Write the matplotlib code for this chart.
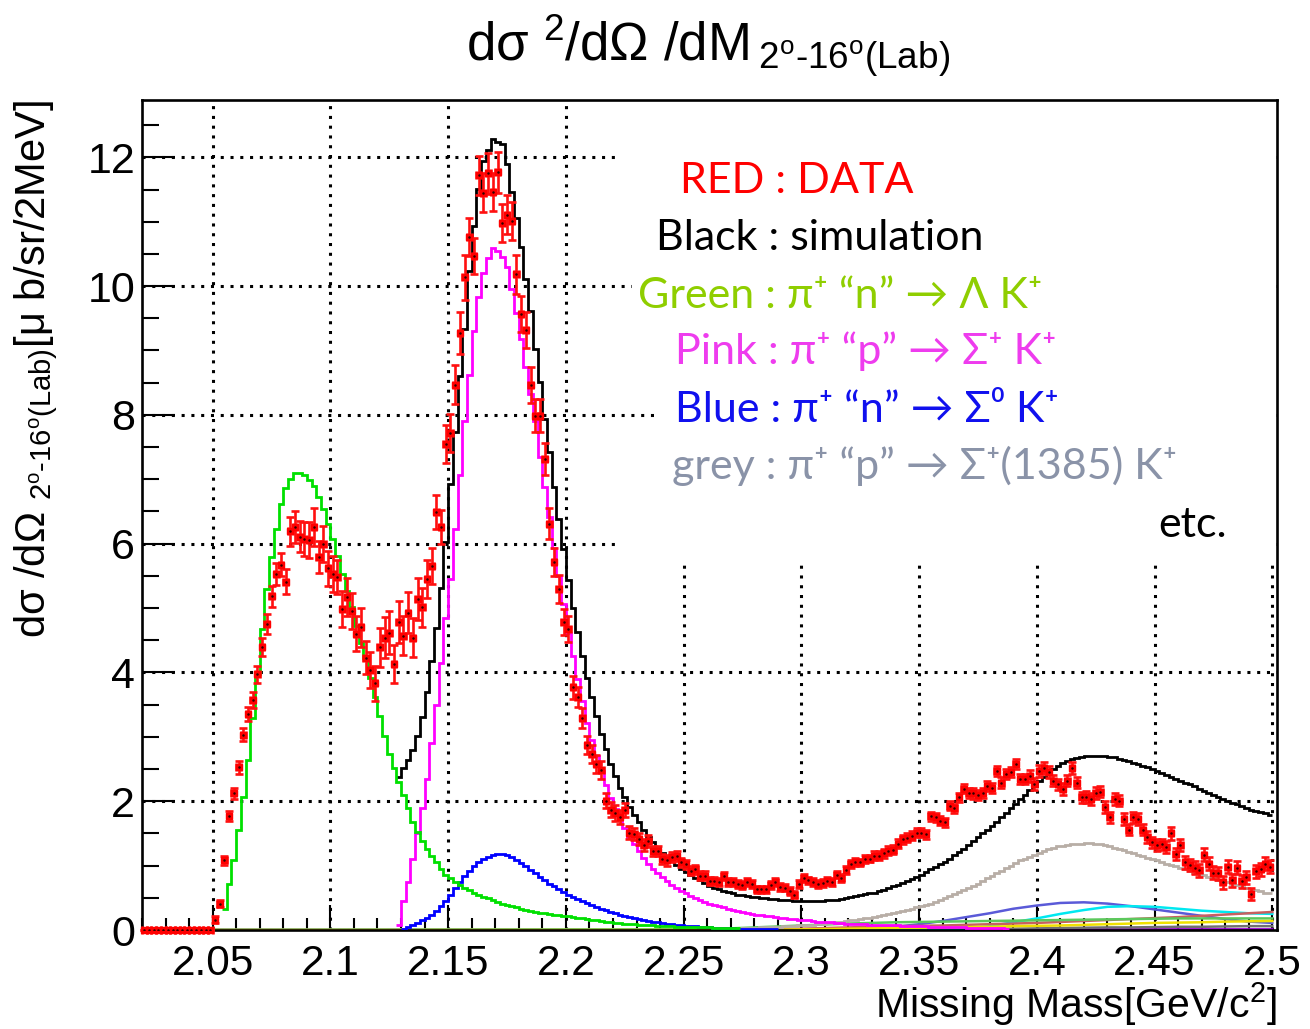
import numpy as np
import matplotlib
matplotlib.use("Agg")
import matplotlib.pyplot as plt
from matplotlib.patches import Rectangle

plt.rcParams["font.family"] = ["Liberation Sans", "DejaVu Sans"]
plt.rcParams["mathtext.fontset"] = "custom"
plt.rcParams["mathtext.rm"] = "Liberation Sans"
plt.rcParams["mathtext.it"] = "Liberation Sans"
plt.rcParams["mathtext.default"] = "regular"

# ---- binning: 2 MeV bins from 2.020 to 2.500 GeV ----
edges = np.round(2.020 + 0.002 * np.arange(241), 3)
centers = edges[:-1] + 0.001

# ---- data (red points), one value per bin ----
data_low = [0.0] * 15
data_hump = [0.16, 0.41, 1.08, 1.77, 2.12, 2.53, 3.03, 3.35, 3.57, 3.97,
             4.40, 4.75, 5.18, 5.53, 5.67, 5.41, 6.19, 6.26, 6.11, 6.07,
             6.05, 6.26, 5.79, 5.99, 5.62, 5.53, 5.48, 4.99, 5.17, 4.96,
             4.60, 4.70, 4.23, 4.04, 3.83]
data_dip = [4.39, 4.54, 4.62, 4.13, 4.78, 4.57, 4.93, 4.54, 5.14, 5.01,
            5.45, 5.66, 6.49, 6.26]
data_peak = [7.55, 7.72, 8.47, 9.27, 10.14, 10.76, 10.46, 11.72, 11.45, 11.75,
             11.46, 11.77, 10.98, 11.11, 11.01, 10.18, 9.57, 9.32, 8.46, 7.99,
             7.99, 7.32, 6.31, 5.71, 5.30]
data_tail = [4.78, 4.67, 3.77, 3.62, 3.29, 2.87, 2.74, 2.58, 2.48, 2.01,
             1.87, 1.82, 1.75, 1.87, 1.51, 1.49, 1.41, 1.32, 1.38, 1.23,
             1.23, 1.10, 1.08, 1.13, 1.15, 1.05, 1.02, 0.92, 0.94, 0.84,
             0.84, 0.76, 0.76, 0.74, 0.84, 0.75, 0.75, 0.71, 0.70, 0.75,
             0.71, 0.63, 0.63, 0.63, 0.70, 0.74]
data_rise = [0.67, 0.66, 0.61, 0.55, 0.71, 0.81, 0.77, 0.75, 0.71, 0.73,
             0.76, 0.75, 0.86, 0.81, 0.93, 1.03, 1.06, 1.05, 1.10, 1.11,
             1.15, 1.15, 1.19, 1.23, 1.25, 1.34, 1.41, 1.43, 1.46, 1.51,
             1.51, 1.49, 1.77, 1.75, 1.70, 1.67, 1.93, 1.89, 2.06, 2.19,
             2.13, 2.12, 2.10, 2.13, 2.24, 2.21, 2.47, 2.29, 2.42, 2.45,
             2.58, 2.34, 2.34]
data_high = [2.39, 2.27, 2.47, 2.52, 2.45, 2.32, 2.26, 2.19, 2.32, 2.52,
             2.29, 2.06, 2.07, 2.03, 2.13, 2.15, 1.91, 1.75, 2.03, 2.01,
             1.72, 1.56, 1.75, 1.72, 1.56, 1.44, 1.36, 1.32, 1.33, 1.29,
             1.50, 1.18, 1.32, 1.05, 1.01, 0.97, 0.93, 1.17, 1.03, 0.89,
             0.88, 0.74, 0.98, 0.77, 0.97, 0.76, 0.82, 0.56, 0.91, 0.94,
             1.03, 0.98]

err_low = [0.0] * 15
err_hump = [0.05, 0.06, 0.07, 0.08, 0.09, 0.10, 0.10, 0.11, 0.12, 0.13,
            0.14, 0.15, 0.16, 0.17, 0.18, 0.19, 0.22, 0.25, 0.24, 0.26,
            0.28, 0.30, 0.25, 0.28, 0.27, 0.28, 0.26, 0.28, 0.30, 0.28,
            0.27, 0.30, 0.26, 0.28, 0.27]
err_dip = [0.30, 0.32, 0.33, 0.30, 0.33, 0.30, 0.32, 0.30, 0.32, 0.30,
           0.30, 0.28, 0.26, 0.27]
err_peak = [0.30, 0.30, 0.30, 0.32, 0.35, 0.30, 0.28, 0.30, 0.30, 0.32,
            0.30, 0.32, 0.30, 0.30, 0.30, 0.30, 0.28, 0.28, 0.28, 0.26,
            0.26, 0.25, 0.24, 0.22, 0.22]
err_tail = [0.20, 0.20, 0.18, 0.16, 0.16, 0.14, 0.14, 0.14, 0.14, 0.12,
            0.12, 0.12, 0.11, 0.11, 0.10, 0.10, 0.09, 0.09, 0.09, 0.08,
            0.08, 0.08, 0.08, 0.08, 0.08, 0.07, 0.07, 0.07, 0.07, 0.07,
            0.07, 0.06, 0.06, 0.06, 0.06, 0.06, 0.06, 0.06, 0.06, 0.06,
            0.06, 0.06, 0.06, 0.06, 0.06, 0.06]
err_rise = [0.06] * 20 + [0.07] * 20 + [0.08] * 13
err_high = [0.09] * 30 + [0.10] * 22

data_y = data_low + data_hump + data_dip + data_peak + data_tail + data_rise + data_high
data_err = err_low + err_hump + err_dip + err_peak + err_tail + err_rise + err_high

# ---- simulation histograms (first value = bin starting at *_start) ----
green_start = 2.054
green = [0.32, 0.71, 1.08, 1.55, 2.07, 2.64, 3.30, 3.97, 4.67, 5.29,
         5.80, 6.23, 6.62, 6.87, 7.01, 7.09, 7.09, 7.07, 6.99, 6.89,
         6.73, 6.54, 6.30, 6.07, 5.81, 5.53, 5.27, 5.01, 4.72, 4.45,
         4.22, 3.92, 3.62, 3.33, 3.02, 2.74, 2.52, 2.30, 2.10, 1.90,
         1.68, 1.52, 1.38, 1.26, 1.15, 1.05, 0.95, 0.86, 0.80, 0.75,
         0.70, 0.66, 0.62, 0.58, 0.55, 0.52, 0.49, 0.46, 0.43, 0.41,
         0.39, 0.37, 0.35, 0.33, 0.31, 0.30, 0.28, 0.27, 0.26, 0.25,
         0.24, 0.23, 0.22, 0.21, 0.20, 0.19, 0.18, 0.17, 0.16, 0.15,
         0.14, 0.13, 0.12, 0.11, 0.105, 0.10, 0.095, 0.09, 0.085, 0.08,
         0.075, 0.07, 0.066, 0.062, 0.058, 0.055, 0.052, 0.05, 0.048, 0.046,
         0.044, 0.042, 0.04, 0.039, 0.038, 0.037, 0.036, 0.035, 0.034, 0.033]

black_start = 2.128
black = [2.38, 2.52, 2.64, 2.79, 3.02, 3.31, 3.70, 4.17, 4.69, 5.31,
         6.03, 6.93, 7.73, 8.60, 9.34, 10.24, 10.94, 11.51, 11.94, 12.11,
         12.28, 12.24, 12.21, 11.90, 11.46, 11.05, 10.61, 10.11, 9.62, 9.03,
         8.51, 7.94, 7.42, 6.88, 6.38, 5.92, 5.44, 5.00, 4.63, 4.26,
         3.92, 3.62, 3.33, 3.05, 2.81, 2.58, 2.39, 2.21, 2.06, 1.91,
         1.79, 1.67, 1.55, 1.45, 1.36, 1.27, 1.20, 1.13, 1.07, 1.01,
         0.95, 0.90, 0.85, 0.81, 0.77, 0.73, 0.69, 0.66, 0.63, 0.61,
         0.59, 0.57, 0.55, 0.54, 0.53, 0.52, 0.51, 0.50, 0.49, 0.48,
         0.48, 0.47, 0.46, 0.46, 0.45, 0.45, 0.45, 0.45, 0.45, 0.45,
         0.45, 0.46, 0.46, 0.47, 0.48, 0.50, 0.51, 0.53, 0.55, 0.56,
         0.57, 0.58, 0.60, 0.62, 0.65, 0.68, 0.70, 0.73, 0.76, 0.79,
         0.82, 0.86, 0.90, 0.94, 0.98, 1.02, 1.06, 1.11, 1.16, 1.21,
         1.26, 1.32, 1.38, 1.44, 1.50, 1.56, 1.62, 1.68, 1.75, 1.82,
         1.89, 1.96, 2.03, 2.10, 2.17, 2.24, 2.32, 2.38, 2.44, 2.50,
         2.55, 2.59, 2.62, 2.65, 2.67, 2.69, 2.70, 2.71, 2.71, 2.71,
         2.70, 2.69, 2.68, 2.66, 2.64, 2.62, 2.60, 2.58, 2.55, 2.53,
         2.50, 2.47, 2.44, 2.41, 2.38, 2.35, 2.32, 2.29, 2.26, 2.23,
         2.19, 2.16, 2.13, 2.10, 2.07, 2.04, 2.01, 1.98, 1.95, 1.92,
         1.89, 1.87, 1.85, 1.83, 1.81, 1.79]

pink_start = 2.128
pink = [0.08, 0.45, 0.75, 1.10, 1.50, 1.90, 2.35, 2.90, 3.50, 4.15,
        4.85, 5.45, 6.23, 7.06, 7.91, 8.62, 9.30, 9.83, 10.20, 10.44,
        10.59, 10.54, 10.45, 10.30, 9.96, 9.58, 9.18, 8.75, 8.33, 7.91,
        7.34, 6.88, 6.41, 5.94, 5.50, 5.07, 4.62, 4.25, 3.90, 3.55,
        3.22, 2.95, 2.70, 2.47, 2.25, 2.05, 1.88, 1.72, 1.58, 1.45,
        1.33, 1.22, 1.12, 1.03, 0.95, 0.88, 0.82, 0.76, 0.70, 0.65,
        0.61, 0.57, 0.53, 0.50, 0.47, 0.44, 0.41, 0.39, 0.37, 0.35,
        0.33, 0.31, 0.29, 0.28, 0.26, 0.25, 0.24, 0.23, 0.22, 0.21,
        0.20, 0.19, 0.18, 0.17, 0.17, 0.16, 0.15, 0.15, 0.14, 0.13,
        0.13, 0.12, 0.12, 0.11, 0.11, 0.10, 0.10, 0.095, 0.09, 0.088,
        0.085, 0.082, 0.08, 0.077, 0.075, 0.072, 0.07, 0.067, 0.065, 0.062,
        0.06, 0.058, 0.056, 0.054, 0.052, 0.05, 0.048, 0.046, 0.044, 0.042,
        0.04, 0.038, 0.036, 0.034, 0.032, 0.03, 0.028, 0.026, 0.024, 0.022]

blue_start = 2.130
blue = [0.02, 0.05, 0.08, 0.11, 0.15, 0.19, 0.24, 0.30, 0.37, 0.45,
        0.55, 0.65, 0.75, 0.84, 0.92, 0.99, 1.05, 1.10, 1.14, 1.17,
        1.18, 1.18, 1.16, 1.13, 1.09, 1.04, 0.99, 0.93, 0.88, 0.82,
        0.77, 0.72, 0.68, 0.63, 0.59, 0.55, 0.52, 0.48, 0.45, 0.42,
        0.39, 0.36, 0.33, 0.31, 0.28, 0.26, 0.24, 0.22, 0.20, 0.18,
        0.17, 0.15, 0.14, 0.13, 0.12, 0.11, 0.10, 0.09, 0.08, 0.07,
        0.065, 0.06, 0.055, 0.05, 0.045, 0.04, 0.037, 0.034, 0.031, 0.028,
        0.025, 0.022, 0.02, 0.018, 0.016, 0.014, 0.012, 0.01, 0.01, 0.01]

grey_start = 2.270
grey = [0.02, 0.02, 0.03, 0.03, 0.03, 0.035, 0.04, 0.04, 0.045, 0.05,
        0.05, 0.055, 0.06, 0.065, 0.07, 0.075, 0.08, 0.085, 0.09, 0.10,
        0.105, 0.11, 0.12, 0.13, 0.14, 0.15, 0.16, 0.17, 0.18, 0.19,
        0.20, 0.215, 0.23, 0.245, 0.26, 0.275, 0.29, 0.31, 0.33, 0.35,
        0.37, 0.39, 0.41, 0.44, 0.47, 0.50, 0.53, 0.56, 0.59, 0.62,
        0.65, 0.68, 0.72, 0.76, 0.80, 0.84, 0.88, 0.92, 0.96, 1.00,
        1.04, 1.08, 1.11, 1.14, 1.17, 1.20, 1.23, 1.26, 1.28, 1.30,
        1.31, 1.32, 1.33, 1.34, 1.34, 1.35, 1.35, 1.34, 1.33, 1.32,
        1.30, 1.28, 1.26, 1.24, 1.21, 1.19, 1.17, 1.15, 1.12, 1.10,
        1.08, 1.06, 1.03, 1.01, 0.99, 0.96, 0.94, 0.92, 0.89, 0.87,
        0.85, 0.83, 0.81, 0.78, 0.76, 0.74, 0.72, 0.70, 0.68, 0.66,
        0.64, 0.62, 0.60, 0.58, 0.57]

# small extra channels near the bottom (sampled every 10 MeV)
minor_x = [2.05, 2.26, 2.27, 2.28, 2.29, 2.30, 2.31, 2.32, 2.33, 2.34, 2.35, 2.36, 2.37,
           2.38, 2.39, 2.40, 2.41, 2.42, 2.43, 2.44, 2.45, 2.46, 2.47, 2.48, 2.49, 2.50]
minor_slate = [0, 0, 0, 0, 0, 0, 0, 0, 0.02, 0.05, 0.09, 0.14, 0.20,
               0.26, 0.33, 0.38, 0.42, 0.43, 0.41, 0.37, 0.32, 0.27, 0.22, 0.17, 0.13, 0.11]
minor_cyan = [0, 0, 0, 0, 0, 0, 0, 0, 0, 0, 0, 0.005, 0.02,
              0.06, 0.12, 0.18, 0.25, 0.31, 0.36, 0.37, 0.36, 0.33, 0.30, 0.28, 0.26, 0.25]
minor_brown = [0, 0, 0.005, 0.01, 0.015, 0.02, 0.03, 0.04, 0.05, 0.06, 0.065, 0.07, 0.08,
               0.09, 0.10, 0.11, 0.125, 0.14, 0.155, 0.17, 0.185, 0.20, 0.22, 0.24, 0.26, 0.28]
minor_green = [0, 0.01, 0.025, 0.04, 0.055, 0.07, 0.085, 0.10, 0.11, 0.12, 0.125, 0.13, 0.135,
               0.14, 0.145, 0.15, 0.155, 0.16, 0.165, 0.17, 0.175, 0.18, 0.18, 0.18, 0.18, 0.18]
minor_grey = [0, 0, 0, 0, 0, 0, 0, 0, 0, 0.005, 0.01, 0.01, 0.015,
              0.02, 0.02, 0.025, 0.03, 0.035, 0.04, 0.04, 0.045, 0.05, 0.05, 0.055, 0.06, 0.06]
minor_yellow = [0, 0, 0, 0, 0.005, 0.01, 0.015, 0.02, 0.025, 0.03, 0.035, 0.04, 0.045,
                0.05, 0.06, 0.065, 0.07, 0.08, 0.09, 0.10, 0.11, 0.115, 0.12, 0.13, 0.135, 0.14]
minor_purple = [0, 0, 0, 0, 0, 0, 0, 0, 0, 0, 0.005, 0.005, 0.01,
                0.01, 0.01, 0.01, 0.01, 0.01, 0.01, 0.01, 0.01, 0.01, 0.01, 0.01, 0.01, 0.01]

x_ticks = [2.05, 2.10, 2.15, 2.20, 2.25, 2.30, 2.35, 2.40, 2.45, 2.50]
x_tick_labels = ["2.05", "2.1", "2.15", "2.2", "2.25", "2.3", "2.35", "2.4", "2.45", "2.5"]
y_ticks = [0, 2, 4, 6, 8, 10, 12]
y_tick_labels = ["0", "2", "4", "6", "8", "10", "12"]

legend_lines = ["RED : DATA",
                "Black : simulation",
                "Green : \u03c0\u207a \u201cn\u201d \u2192 \u039b K\u207a",
                "Pink : \u03c0\u207a \u201cp\u201d \u2192 \u03a3\u207a K\u207a",
                "Blue : \u03c0\u207a \u201cn\u201d \u2192 \u03a3\u2070 K\u207a",
                "grey : \u03c0\u207a \u201cp\u201d \u2192 \u03a3\u207a(1385) K\u207a",
                "etc."]
legend_colors = ["#ff0000", "#000000", "#8fce00", "#ee3cee", "#1010ee", "#8a93a8", "#000000"]


def full(start, vals):
    out = np.zeros(240)
    i = int(round((start - 2.020) / 0.002))
    n = min(len(vals), 240 - i)
    out[i:i + n] = vals[:n]
    return out, i, i + n


W, H = 1310, 1029
fig = plt.figure(figsize=(W / 100, H / 100), dpi=100)
ax = fig.add_axes([142 / W, 99 / H, 1135 / W, 830 / H])

# minor channels
for vals, col in [(minor_purple, "#9a00d0"), (minor_grey, "#707070"), (minor_slate, "#5a5ad8"),
                  (minor_cyan, "#00e8f0"), (minor_brown, "#c86060"), (minor_green, "#5cc85c"),
                  (minor_yellow, "#f0e000")]:
    ax.plot(minor_x, vals, color=col, lw=1.8, zorder=2)

for vals, start, col, z in [(grey, grey_start, "#b8aea6", 3), (blue, blue_start, "#0000ff", 4),
                            (pink, pink_start, "#ff00ff", 5), (black, black_start, "#000000", 6),
                            (green, green_start, "#00e000", 7)]:
    h, a, b = full(start, vals)
    ax.stairs(h[a:b], edges[a:b + 1], baseline=None, color=col, lw=2.0, zorder=z)

# data points
ax.errorbar(centers, data_y, xerr=0.001, yerr=data_err, fmt="s", ms=4.2,
            color="#ff0000", ecolor="#ff1010", elinewidth=1.9, capsize=3, capthick=1.9,
            zorder=8, clip_on=False)
ax.plot(centers, data_y, ".", color="#300000", ms=1.6, zorder=9)

ax.set_xlim(2.02, 2.502)
ax.set_ylim(0, 12.89)
ax.set_xticks(x_ticks)
ax.set_xticklabels(x_tick_labels)
ax.set_xticks(np.round(np.arange(2.02, 2.5001, 0.01), 2), minor=True)
ax.set_yticks(y_ticks)
ax.set_yticklabels(y_tick_labels)
ax.set_yticks(np.arange(0, 12.6, 0.5), minor=True)
ax.tick_params(axis="x", which="major", direction="in", length=18, width=1.5,
               labelsize=30.5, pad=10)
ax.tick_params(axis="x", which="minor", direction="in", length=9, width=1.5)
ax.tick_params(axis="y", which="major", direction="in", length=24, width=1.5,
               labelsize=31, pad=5)
ax.tick_params(axis="y", which="minor", direction="in", length=12, width=1.5)
for s in ax.spines.values():
    s.set_linewidth(1.9)
ax.set_axisbelow(True)
ax.grid(True, which="major", color="black", linestyle=(0, (1, 2.2)), lw=2.2)

# white text panels (hide the grid behind the legend text)
for x0, y0, y1 in [(615, 102, 270), (632, 270, 330), (660, 330, 500), (615, 500, 560)]:
    ax.add_patch(Rectangle((x0 / W, 1 - y1 / H), (1275 - x0) / W, (y1 - y0) / H,
                           transform=fig.transFigure, facecolor="white",
                           edgecolor="none", zorder=1))

fig.text(708 / W, 1 - 12 / H, r"d$\sigma$ $^{2}$/d$\Omega$ /dM$\,_{2^{o}\text{-}16^{o}(Lab)}$",
         ha="center", va="top", fontsize=38)
fig.text(36 / W, 1 - 100 / H,
         r"d$\sigma$ /d$\Omega$ $_{2^{o}\text{-}16^{o}(Lab)}$[$\mu$ b/sr/2MeV]",
         rotation=90, ha="center", va="top", fontsize=30)
fig.text(1277 / W, 1 - 1018 / H, r"Missing Mass[GeV/c$^{2}$]", ha="right", va="baseline",
         fontsize=29.5)

leg_pos = [(680, 193), (656, 250), (638, 308), (675, 364), (675, 422), (672, 479), (1158, 537)]
for txt, col, (px, py) in zip(legend_lines, legend_colors, leg_pos):
    fig.text(px / W, 1 - py / H, txt, color=col, ha="left", va="baseline", fontsize=31,
             family=["Lato", "Noto Sans", "DejaVu Sans"])

fig.savefig("out.png", dpi=100)
